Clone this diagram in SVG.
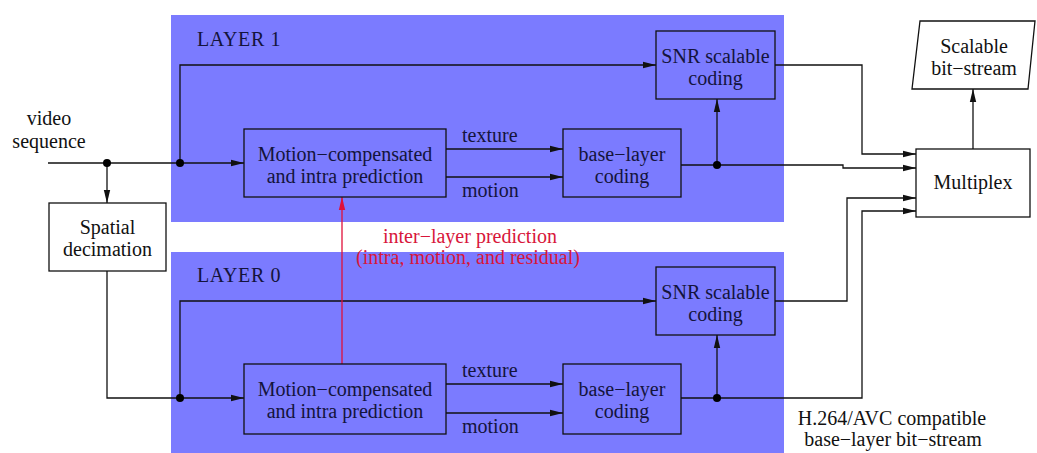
<svg xmlns="http://www.w3.org/2000/svg" width="1037" height="453" viewBox="0 0 1037 453">
  <style>
    .layer { fill: #7b7bff; stroke: none; }
    .box { fill: none; stroke: #111; stroke-width: 1.3; }
    .wbox { fill: #fff; stroke: #111; stroke-width: 1.3; }
    .t { font-family: "Liberation Serif", "Times New Roman", serif; font-size: 20px; fill: #111; }
    .in { fill: #14143c; }
    .c { text-anchor: middle; }
    .red { fill: #d8163a; }
    .wire { fill: none; stroke: #111; stroke-width: 1.3; }
    .rwire { fill: none; stroke: #e0103a; stroke-width: 1.3; }
    .dot { fill: #000; }
  </style>
  <defs>
    <marker id="arr" markerUnits="userSpaceOnUse" markerWidth="14" markerHeight="8" refX="13" refY="4" orient="auto">
      <path d="M0,0.8 L13,4 L0,7.2 z" fill="#111"/>
    </marker>
    <marker id="arrRed" markerUnits="userSpaceOnUse" markerWidth="14" markerHeight="8" refX="13" refY="4" orient="auto">
      <path d="M0,0.8 L13,4 L0,7.2 z" fill="#e0103a"/>
    </marker>
  </defs>

  <rect width="1037" height="453" fill="#fff"/>

  <!-- layer backgrounds -->
  <g id="layer1">
    <rect class="layer" x="171" y="15" width="613" height="207"/>
    <text class="t in" x="197" y="46" letter-spacing="0.6">LAYER 1</text>
  </g>
  <g id="layer0">
    <rect class="layer" x="171" y="252" width="613" height="201"/>
    <text class="t in" x="197" y="282" letter-spacing="0.6">LAYER 0</text>
  </g>

  <!-- connectors -->
  <g id="connectors">
    <!-- input -->
    <path class="wire" d="M48,163 H244" marker-end="url(#arr)"/>
    <path class="wire" d="M107,163 V203" marker-end="url(#arr)"/>
    <path class="wire" d="M180,163 V65 H656" marker-end="url(#arr)"/>
    <!-- layer 1 internals -->
    <path class="wire" d="M446,149 H563" marker-end="url(#arr)"/>
    <path class="wire" d="M446,177 H563" marker-end="url(#arr)"/>
    <path class="wire" d="M717,165 V99" marker-end="url(#arr)"/>
    <path class="wire" d="M681,165 H843 V168 H916" marker-end="url(#arr)"/>
    <path class="wire" d="M775,65 H862 V154 H916" marker-end="url(#arr)"/>
    <!-- decimated path -->
    <path class="wire" d="M107,271 V398 H244" marker-end="url(#arr)"/>
    <path class="wire" d="M180,398 V301 H656" marker-end="url(#arr)"/>
    <!-- layer 0 internals -->
    <path class="wire" d="M446,384 H563" marker-end="url(#arr)"/>
    <path class="wire" d="M446,413 H563" marker-end="url(#arr)"/>
    <path class="wire" d="M717,398 V335" marker-end="url(#arr)"/>
    <path class="wire" d="M681,398 H862 V211 H916" marker-end="url(#arr)"/>
    <path class="wire" d="M775,301 H847 V198 H916" marker-end="url(#arr)"/>
    <!-- multiplex output -->
    <path class="wire" d="M973,149 V89" marker-end="url(#arr)"/>
    <!-- inter-layer prediction -->
    <path class="rwire" d="M342,364 V197" marker-end="url(#arrRed)"/>
    <!-- junction dots -->
    <circle class="dot" cx="107" cy="163" r="4"/>
    <circle class="dot" cx="180" cy="163" r="4"/>
    <circle class="dot" cx="717" cy="165" r="4"/>
    <circle class="dot" cx="180" cy="398" r="4"/>
    <circle class="dot" cx="717" cy="398" r="4"/>
  </g>

  <!-- edge labels -->
  <g id="labels">
    <text class="t c" x="49" y="125">video</text>
    <text class="t c" x="49" y="148">sequence</text>
    <text class="t in" x="462" y="142">texture</text>
    <text class="t in" x="462" y="197">motion</text>
    <text class="t in" x="462" y="377">texture</text>
    <text class="t in" x="462" y="433">motion</text>
    <text class="t c red" x="470" y="243">inter−layer prediction</text>
    <text class="t c red" x="468" y="264">(intra, motion, and residual)</text>
    <text class="t c" x="892" y="425">H.264/AVC compatible</text>
    <text class="t c" x="893" y="446">base−layer bit−stream</text>
  </g>

  <!-- nodes -->
  <g id="spatial-decimation">
    <rect class="wbox" x="49" y="203" width="117" height="68"/>
    <text class="t c" x="107.5" y="234">Spatial</text>
    <text class="t c" x="107.5" y="256">decimation</text>
  </g>
  <g id="mcp-1">
    <rect class="box" x="244" y="129" width="202" height="68"/>
    <text class="t c in" x="345" y="161">Motion−compensated</text>
    <text class="t c in" x="345" y="183">and intra prediction</text>
  </g>
  <g id="base-1">
    <rect class="box" x="563" y="129" width="118" height="68"/>
    <text class="t c in" x="622" y="161">base−layer</text>
    <text class="t c in" x="622" y="183">coding</text>
  </g>
  <g id="snr-1">
    <rect class="box" x="656" y="31" width="119" height="68"/>
    <text class="t c in" x="715.5" y="63">SNR scalable</text>
    <text class="t c in" x="715.5" y="85">coding</text>
  </g>
  <g id="mcp-0">
    <rect class="box" x="244" y="364" width="202" height="70"/>
    <text class="t c in" x="345" y="396">Motion−compensated</text>
    <text class="t c in" x="345" y="418">and intra prediction</text>
  </g>
  <g id="base-0">
    <rect class="box" x="563" y="364" width="118" height="70"/>
    <text class="t c in" x="622" y="396">base−layer</text>
    <text class="t c in" x="622" y="418">coding</text>
  </g>
  <g id="snr-0">
    <rect class="box" x="656" y="267" width="119" height="68"/>
    <text class="t c in" x="715.5" y="299">SNR scalable</text>
    <text class="t c in" x="715.5" y="321">coding</text>
  </g>
  <g id="multiplex">
    <rect class="wbox" x="916" y="149" width="114" height="68"/>
    <text class="t c" x="973" y="189">Multiplex</text>
  </g>
  <g id="scalable-bitstream">
    <polygon class="wbox" points="920,21 1035,21 1028,89 912,89"/>
    <text class="t c" x="974" y="53">Scalable</text>
    <text class="t c" x="974" y="75">bit−stream</text>
  </g>
</svg>
